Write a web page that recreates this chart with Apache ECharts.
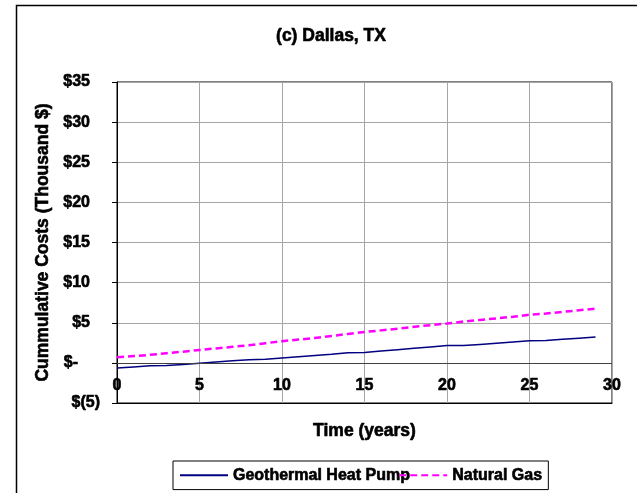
<!DOCTYPE html>
<html>
<head>
<meta charset="utf-8">
<script src="https://cdn.jsdelivr.net/npm/echarts@6/dist/echarts.min.js"></script>
<style>html,body{margin:0;padding:0;background:#fff;}#c{width:637px;height:493px;}</style>
</head>
<body>
<div id="c"></div>
<script>
var years = [0,1,2,3,4,5,6,7,8,9,10,11,12,13,14,15,16,17,18,19,20,21,22,23,24,25,26,27,28,29];
var geothermal = [-0.65,-0.5,-0.37,-0.33,-0.2,-0.05,0.1,0.25,0.4,0.45,0.62,0.77,0.92,1.07,1.25,1.3,1.47,1.64,1.81,1.98,2.15,2.15,2.3,2.45,2.6,2.75,2.78,2.93,3.08,3.22];
var naturalGas = [0.7,0.85,1.0,1.2,1.4,1.6,1.8,2.0,2.2,2.45,2.7,2.9,3.1,3.35,3.6,3.85,4.05,4.25,4.5,4.7,4.9,5.15,5.35,5.55,5.75,6.0,6.15,6.35,6.55,6.75];
var seriesNames = ['Geothermal Heat Pump','Natural Gas'];
var titleText = '(c) Dallas, TX';
var xTitle = 'Time (years)';
var yTitle = 'Cummulative Costs (Thousand $)';

function pairs(ys){ return years.map(function(x,i){ return [x, ys[i]]; }); }
var FONT = '"Liberation Sans", Arial, sans-serif';
function ts(size){ return {fontFamily:FONT,fontWeight:'bold',fontSize:size,color:'#000',textBorderColor:'#000',textBorderWidth:0.6}; }

var chart = echarts.init(document.getElementById('c'), null, {renderer:'canvas'});
chart.setOption({
  animation:false,
  backgroundColor:'#fff',
  title:{text:titleText,left:326,top:22,textAlign:'center',textStyle:ts(17.5)},
  graphic:[{type:'rect',shape:{x:16.5,y:5.5,width:700,height:600},
    style:{fill:null,stroke:'#000',lineWidth:1.5},silent:true,z:-1}],
  grid:{left:117,top:82,right:25,bottom:90,show:true,borderColor:'#000',borderWidth:1},
  legend:{left:173,top:461,data:seriesNames,itemWidth:48,itemHeight:12,itemGap:-12,
    padding:[6,6,6,6],borderColor:'#000',borderWidth:1,
    itemStyle:{opacity:0},
    textStyle:ts(16)},
  xAxis:{type:'value',min:0,max:30,interval:5,
    name:xTitle,nameLocation:'middle',nameGap:19,
    nameTextStyle:ts(17.5),
    axisLine:{onZero:false,lineStyle:{color:'#000',width:1}},
    axisTick:{show:false},
    axisLabel:Object.assign({inside:true,margin:9},ts(16)),
    splitLine:{show:true,lineStyle:{color:'#a6a6a6',width:1}}},
  yAxis:{type:'value',min:-5,max:35,interval:5,
    name:yTitle,nameLocation:'middle',nameGap:64,
    nameTextStyle:ts(17.5),
    axisLine:{show:true,lineStyle:{color:'#000',width:1}},
    axisTick:{show:true,length:5,lineStyle:{color:'#000'}},
    axisLabel:Object.assign({margin:17,
      formatter:function(v){
        if(v<0) return '{t|$(' + (-v) + ')}';
        if(v===0) return '{t|$-}{s| }';
        return '{t|$' + v + '}{p| }';
      },
      rich:{t:ts(16),p:{width:10,fontSize:16},s:{width:22,fontSize:16}}},ts(16)),
    splitLine:{show:true,lineStyle:{color:'#a6a6a6',width:1}}},
  series:[
    {name:seriesNames[0],type:'line',data:pairs(geothermal),symbol:'none',
      lineStyle:{color:'#000080',width:1.5},itemStyle:{color:'#000080'},
      markLine:{silent:true,symbol:'none',label:{show:false},
        lineStyle:{color:'#404040',type:'solid',width:1.2},data:[{yAxis:0}]},
      z:3},
    {name:seriesNames[1],type:'line',data:pairs(naturalGas),symbol:'none',
      lineStyle:{color:'#ff00ff',width:2.5,type:[7,4]},itemStyle:{color:'#ff00ff'},z:4}
  ]
});
</script>
</body>
</html>
